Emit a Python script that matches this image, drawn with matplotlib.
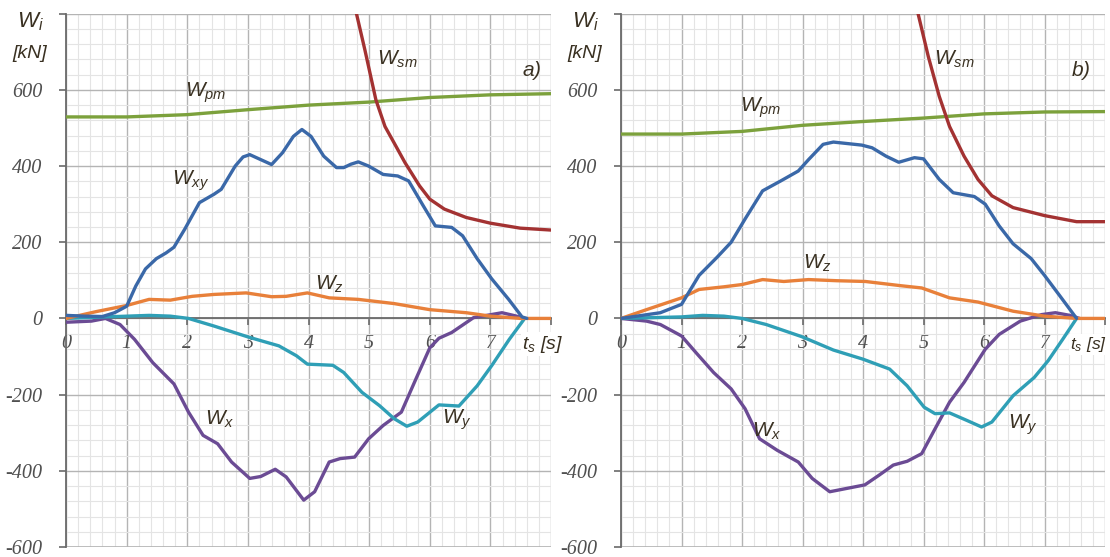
import numpy as np
import matplotlib
matplotlib.use('Agg')
import matplotlib.pyplot as plt
from matplotlib.ticker import MultipleLocator

plt.rcParams['mathtext.fontset'] = 'custom'
plt.rcParams['mathtext.it'] = 'Liberation Sans:italic'
plt.rcParams['mathtext.rm'] = 'Liberation Sans:italic'

# ---- panel a) data [t_s, kN] ----
a_pm_t = [0, 1, 2, 3, 4, 5, 6, 7, 8]
a_pm_w = [529, 529, 535, 548, 560, 568, 580, 587, 590]

a_sm_t = [4.79, 4.93, 5.11, 5.26, 5.41, 5.59, 5.83, 6.0, 6.24, 6.6, 7.0, 7.49, 8.0]
a_sm_w = [800, 704, 574, 504, 461, 409, 348, 313, 287, 265, 250, 237, 232]

a_xy_t = [0, 0.3, 0.6, 0.8, 1.0, 1.15, 1.31, 1.49, 1.65, 1.78, 1.96, 2.2, 2.44, 2.56, 2.79,
          2.92, 3.03, 3.21, 3.39, 3.57, 3.75, 3.89, 4.04, 4.25, 4.46, 4.58, 4.7, 4.82,
          4.99, 5.23, 5.47, 5.65, 5.89, 6.09, 6.36, 6.54, 6.78, 7.02, 7.3, 7.52, 7.6]
a_xy_w = [8, 6, 5, 15, 32, 85, 130, 157, 172, 187, 235, 304, 326, 339, 400,
          424, 430, 417, 404, 435, 478, 496, 478, 426, 396, 396, 405, 411,
          400, 378, 374, 361, 296, 243, 239, 217, 157, 104, 50, 4, 0]

a_z_t = [0, 0.5, 1.0, 1.37, 1.72, 2.08, 2.44, 2.97, 3.39, 3.63, 3.98, 4.34, 4.82, 5.41,
         6.0, 6.6, 7.0, 7.5, 8.0]
a_z_w = [0, 18, 34, 50, 48, 58, 63, 67, 57, 58, 67, 54, 50, 39,
         23, 15, 6, 0, 0]

a_y_t = [0, 0.65, 1.37, 1.72, 2.02, 2.44, 3.03, 3.51, 3.8, 3.98, 4.4, 4.58, 4.88, 5.17,
         5.41, 5.62, 5.8, 6.15, 6.48, 6.78, 7.02, 7.31, 7.55]
a_y_w = [0, 4, 8, 6, 0, -20, -50, -72, -98, -120, -123, -142, -194, -229,
         -263, -283, -272, -227, -230, -177, -124, -55, -3]

a_x_t = [0, 0.42, 0.65, 0.89, 1.13, 1.43, 1.78, 2.02, 2.26, 2.5, 2.73, 3.03, 3.21, 3.45,
         3.63, 3.92, 4.1, 4.34, 4.52, 4.76, 4.99, 5.23, 5.53, 5.77, 6.0, 6.15, 6.36,
         6.72, 7.19, 7.43, 7.55]
a_x_w = [-10, -7, 0, -16, -55, -116, -172, -246, -307, -329, -377, -420, -415, -396,
         -416, -477, -455, -377, -368, -364, -316, -281, -246, -159, -77, -52, -37,
         2, 15, 6, 0]

# ---- panel b) data ----
b_pm_t = [0, 1, 2, 3, 4, 5, 6, 7, 8]
b_pm_w = [484, 484, 491, 507, 517, 526, 537, 542, 543]

b_sm_t = [4.91, 5.08, 5.26, 5.43, 5.67, 5.9, 6.13, 6.48, 7.0, 7.53, 8.0]
b_sm_w = [800, 687, 583, 504, 426, 365, 322, 291, 270, 254, 254]

b_xy_t = [0, 0.65, 1.0, 1.29, 1.59, 1.82, 2.05, 2.34, 2.64, 2.93, 3.1, 3.34, 3.51, 3.98,
          4.15, 4.38, 4.59, 4.85, 5.0, 5.26, 5.49, 5.84, 6.02, 6.25, 6.48, 6.78, 7.0,
          7.25, 7.53]
b_xy_w = [0, 15, 37, 113, 161, 200, 261, 335, 361, 387, 417, 457, 463, 455,
          448, 426, 410, 422, 419, 365, 330, 320, 300, 243, 196, 157, 113,
          60, 0]

b_z_t = [0, 0.42, 1.0, 1.29, 1.7, 2.0, 2.34, 2.69, 3.1, 3.57, 4.04, 4.62, 4.97, 5.43,
         5.9, 6.48, 7.0, 7.53, 8.0]
b_z_w = [0, 23, 54, 76, 83, 89, 102, 97, 102, 99, 97, 86, 80, 54,
         43, 19, 6, 0, 0]

b_y_t = [0, 1.0, 1.35, 1.7, 2.0, 2.4, 2.99, 3.51, 4.0, 4.44, 4.73, 5.01, 5.19, 5.43,
         5.72, 5.96, 6.13, 6.48, 6.83, 7.06, 7.3, 7.53]
b_y_w = [0, 4, 8, 6, 0, -16, -48, -83, -107, -133, -177, -233, -250, -248,
         -268, -285, -272, -203, -155, -111, -55, 0]

b_x_t = [0, 0.42, 0.65, 1.0, 1.24, 1.53, 1.82, 2.05, 2.29, 2.58, 2.93, 3.16, 3.45, 3.74,
         4.03, 4.27, 4.5, 4.73, 4.97, 5.19, 5.43, 5.67, 6.02, 6.25, 6.6, 6.95, 7.18,
         7.42, 7.58]
b_x_w = [0, -7, -16, -46, -90, -142, -185, -237, -316, -346, -377, -420, -455, -446,
         -437, -411, -385, -375, -355, -290, -220, -168, -81, -42, -7, 10, 15,
         8, 0]

xticks = [0, 1, 2, 3, 4, 5, 6, 7]
yticks = [-600, -400, -200, 0, 200, 400, 600]

c_xy = '#3a68a8'
c_sm = '#a33232'
c_pm = '#7ca13c'
c_z = '#e8803a'
c_y = '#2f9fb6'
c_x = '#6b4b94'
lab_col = '#3a3122'
tick_col = '#505050'

fig = plt.figure(figsize=(11.1, 5.57), dpi=100)
ax_a = fig.add_axes([0.0595, 0.0180, 0.437, 0.9574])
ax_b = fig.add_axes([0.5595, 0.0180, 0.436, 0.9574])


def setup(ax):
    ax.set_xlim(0, 8)
    ax.set_ylim(-600, 800)
    ax.xaxis.set_minor_locator(MultipleLocator(0.2))
    ax.yaxis.set_minor_locator(MultipleLocator(40))
    ax.set_xticks(range(9))
    ax.set_yticks(range(-600, 801, 200))
    ax.grid(which='major', color='#b4b4b4', lw=1.0, zorder=0)
    ax.grid(which='minor', color='#e4e4e4', lw=0.8, zorder=0)
    ax.set_axisbelow(True)
    for s in ['top', 'right']:
        ax.spines[s].set_visible(False)
    ax.spines['left'].set_color('#6a6a6a')
    ax.spines['left'].set_linewidth(1.3)
    ax.spines['bottom'].set_position(('data', 0))
    ax.spines['bottom'].set_color('#6a6a6a')
    ax.spines['bottom'].set_linewidth(1.3)
    ax.axhline(-600, color='#b4b4b4', lw=1.2, zorder=1)
    ax.set_xticklabels([str(v) if v in xticks else '' for v in range(9)])
    ax.set_yticklabels([str(v) if v in yticks else '' for v in range(-600, 801, 200)])
    ax.tick_params(axis='y', which='major', length=5, width=1.2, color='#6a6a6a',
                   pad=12, labelfontfamily='Liberation Serif', labelsize=14.5,
                   labelcolor=tick_col)
    ax.tick_params(axis='x', which='major', length=5, width=1.2, color='#6a6a6a',
                   pad=6, labelfontfamily='Liberation Serif', labelsize=14.5,
                   labelcolor=tick_col)
    ax.tick_params(which='minor', length=0)
    ax.text(-0.045, 0.985, '$W_i$', transform=ax.transAxes, ha='right', va='center',
            fontsize=16, color=lab_col)
    ax.text(-0.04, 0.925, '[kN]', transform=ax.transAxes, ha='right', va='center',
            fontsize=14, color=lab_col, fontfamily='Liberation Sans',
            fontstyle='italic')


def curve(ax, t, w, col):
    ax.plot(t, w, color=col, lw=2.4, solid_joinstyle='round', solid_capstyle='round',
            zorder=3, clip_on=True)


def lab(ax, x, y, s, size=15):
    ax.text(x, y, s, fontsize=size, color=lab_col, ha='center', va='center', zorder=5)


for ax in (ax_a, ax_b):
    setup(ax)

curve(ax_a, a_pm_t, a_pm_w, c_pm)
curve(ax_a, a_sm_t, a_sm_w, c_sm)
curve(ax_a, a_x_t, a_x_w, c_x)
curve(ax_a, a_y_t, a_y_w, c_y)
curve(ax_a, a_z_t, a_z_w, c_z)
curve(ax_a, a_xy_t, a_xy_w, c_xy)

curve(ax_b, b_pm_t, b_pm_w, c_pm)
curve(ax_b, b_sm_t, b_sm_w, c_sm)
curve(ax_b, b_x_t, b_x_w, c_x)
curve(ax_b, b_y_t, b_y_w, c_y)
curve(ax_b, b_z_t, b_z_w, c_z)
curve(ax_b, b_xy_t, b_xy_w, c_xy)

lab(ax_a, 2.3, 592, '$W_{pm}$')
lab(ax_a, 5.47, 680, '$W_{sm}$')
lab(ax_a, 7.68, 652, '$a)$', 15)
lab(ax_a, 2.05, 362, '$W_{xy}$')
lab(ax_a, 4.35, 90, '$W_z$')
lab(ax_a, 2.53, -265, '$W_x$')
lab(ax_a, 6.45, -265, '$W_y$')
ax_a.text(7.52, -68, '$t_s\\ [s]$', fontsize=14, color=lab_col, ha='left',
          va='center', zorder=6, clip_on=False,
          bbox=dict(facecolor='white', edgecolor='none', pad=1.0))

lab(ax_b, 2.3, 552, '$W_{pm}$')
lab(ax_b, 5.5, 680, '$W_{sm}$')
lab(ax_b, 7.6, 652, '$b)$', 15)
lab(ax_b, 3.25, 144, '$W_z$')
lab(ax_b, 2.4, -296, '$W_x$')
lab(ax_b, 6.65, -278, '$W_y$')
ax_b.text(7.42, -68, '$t_s\\ [s]$', fontsize=12.5, color=lab_col, ha='left',
          va='center', zorder=6, clip_on=False,
          bbox=dict(facecolor='white', edgecolor='none', pad=0.8))

# tick label style (italic serif), applied once the ticks exist
fig.canvas.draw()
for ax in (ax_a, ax_b):
    for t in ax.get_xticklabels() + ax.get_yticklabels():
        t.set_fontstyle('italic')
        t.set_fontfamily('Liberation Serif')

fig.savefig('out.png', dpi=100)
